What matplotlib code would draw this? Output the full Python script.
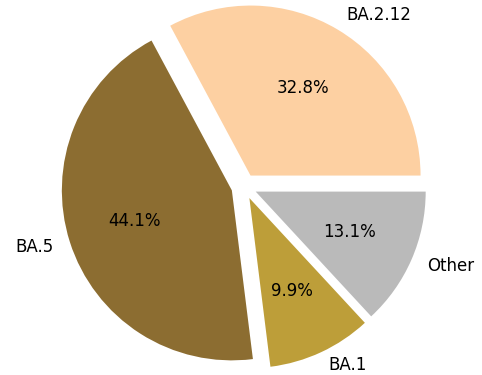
import matplotlib.pyplot as plt

plt.switch_backend("Agg")

labels = ["BA.2.12", "BA.5", "BA.1", "Other"]
shares = [32.8, 44.1, 9.9, 13.1]
colors = ["#fdd0a2", "#8c6d31", "#bd9e39", "#bababa"]
explode = [0.075, 0.075, 0.075, 0.075]

W, H = 482, 375
px_per_unit = 170.0
cx, cy = 244.0, 186.5  # pie centre in pixels from top-left

fig = plt.figure(figsize=(W / 100, H / 100), dpi=100)
ax = fig.add_axes([0, 0, 1, 1])
wedges, texts, autotexts = ax.pie(shares, labels=labels, colors=colors,
                                  explode=explode, autopct="%1.1f%%",
                                  startangle=0, textprops={"fontsize": 12})
# nudge the bottom label so it stays inside the canvas
bx, by = texts[2].get_position()
texts[2].set_position((bx, by + 3 / px_per_unit))
ax.set_xlim(-cx / px_per_unit, (W - cx) / px_per_unit)
ax.set_ylim(-(H - cy) / px_per_unit, cy / px_per_unit)
fig.savefig("out.png", dpi=100)
